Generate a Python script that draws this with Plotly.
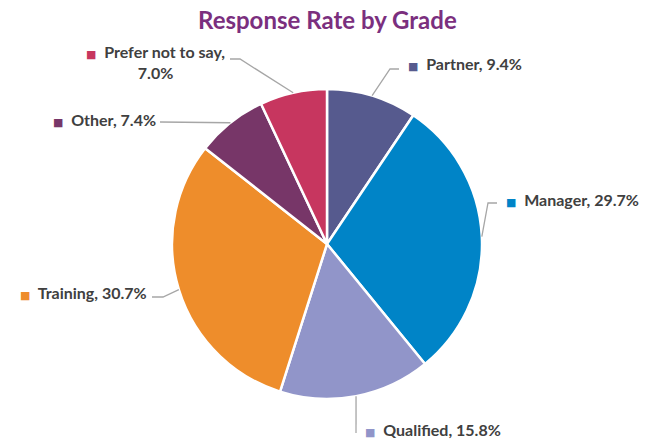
import math
import plotly.graph_objects as go

# ---- data ----
grades = ["Partner", "Manager", "Qualified", "Training", "Other", "Prefer not to say"]
shares = [9.4, 29.7, 15.8, 30.7, 7.4, 7.0]
colors = ["#565a8e", "#0084c7", "#9195c9", "#ee8d2b", "#773668", "#c7365f"]
title_text = "Response Rate by Grade"

# ---- layout constants (pixels) ----
W, H = 645, 439
CX, CY, R = 327, 244, 155
FONT = "Lato, 'Open Sans', sans-serif"
TXT = "#404040"
LINE = "#a6a6a6"

def px(x):
    return x / W

def py(y):
    return 1 - y / H

# per-label layout: (elbow point, end point, label anchor x, label y, xanchor)
label_layout = {
    "Partner": ((390, 69), (399, 69), 406, 64, "left"),
    "Manager": ((488, 203), (497, 203), 504, 199, "left"),
    "Qualified": (None, (356, 433), 363, 429, "left"),
    "Training": ((163, 297), (152, 297), 149, 292, "right"),
    "Other": (None, (160, 122), 158, 120, "right"),
    "Prefer not to say": ((240, 59), (230, 59), 227, 62, "right"),
}

fig = go.Figure(go.Pie(
    labels=grades,
    values=shares,
    sort=False,
    direction="clockwise",
    rotation=0,
    marker=dict(colors=colors, line=dict(color="white", width=2.5)),
    textinfo="none",
    hoverinfo="label+percent",
    showlegend=False,
    domain=dict(x=[px(CX - R), px(CX + R)], y=[py(CY + R), py(CY - R)]),
))

total = sum(shares)
cum = 0.0
shapes = []
annotations = []
for g, v, c in zip(grades, shares, colors):
    mid = (cum + v / 2) / total * 2 * math.pi
    cum += v
    sx = CX + R * math.sin(mid)
    sy = CY - R * math.cos(mid)
    elbow, end, lx, ly, xa = label_layout[g]
    pts = [(sx, sy)] + ([elbow] if elbow else []) + [end]
    path = "M " + " L ".join(f"{px(x)},{py(y)}" for x, y in pts)
    shapes.append(dict(type="path", path=path, xref="paper", yref="paper",
                       line=dict(color=LINE, width=1.3)))
    pct = f"{v:.1f}%"
    sq = f"<span style='color:{c};font-size:11px;font-family:DejaVu Sans'>■</span>"
    if g == "Prefer not to say":
        text = f"{sq}  {g},<br>{pct}"
        align = "center"
    else:
        text = f"{sq}  {g}, {pct}"
        align = "left"
    annotations.append(dict(
        x=px(lx), y=py(ly), xref="paper", yref="paper",
        xanchor=xa, yanchor="middle", align=align,
        text=f"<b>{text}</b>", showarrow=False,
        font=dict(family=FONT, size=16, color=TXT),
    ))

annotations.append(dict(
    x=px(327), y=py(20), xref="paper", yref="paper",
    xanchor="center", yanchor="middle", showarrow=False,
    text=f"<b>{title_text}</b>",
    font=dict(family=FONT, size=24, color="#7b2f7e"),
))

fig.update_layout(
    width=W, height=H,
    margin=dict(l=0, r=0, t=0, b=0),
    paper_bgcolor="white", plot_bgcolor="white",
    shapes=shapes, annotations=annotations,
)

fig.write_html("out.html", config={"displayModeBar": False},
               post_script="document.body.style.margin='0';")
